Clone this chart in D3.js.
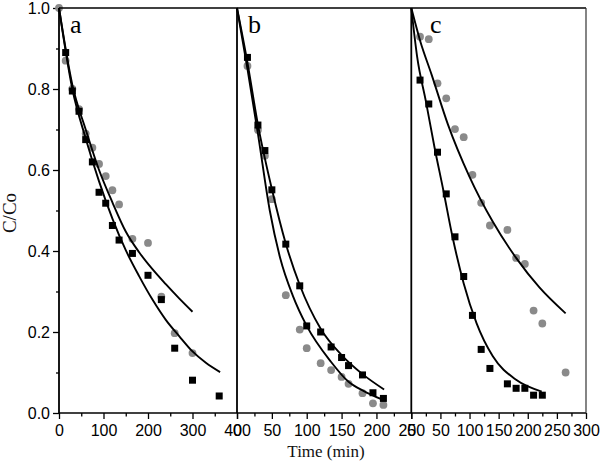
<!DOCTYPE html>
<html>
<head>
<meta charset="utf-8">
<script src="https://cdn.jsdelivr.net/npm/d3@7"></script>
<style>
  body { margin: 0; background: #fff; }
  svg { display: block; }
</style>
</head>
<body>
<svg id="chart" width="600" height="464"></svg>
<script>
// panel a
const aSqT = [15, 30, 45, 60, 75, 90, 105, 120, 135, 165, 200, 230, 260, 300, 360];
const aSqV = [0.89, 0.795, 0.745, 0.675, 0.62, 0.545, 0.518, 0.463, 0.427, 0.394, 0.34, 0.28, 0.16, 0.081, 0.042];
const aCiT = [0, 15, 30, 45, 60, 75, 90, 105, 120, 135, 165, 200, 230, 260, 300];
const aCiV = [1.0, 0.87, 0.80, 0.75, 0.69, 0.655, 0.615, 0.585, 0.55, 0.515, 0.43, 0.42, 0.287, 0.197, 0.148];
const aFitLoT = [0, 30, 60, 90, 120, 150, 180, 210, 240, 270, 300, 330, 362];
const aFitLoV = [1.0, 0.80, 0.678, 0.572, 0.48, 0.402, 0.338, 0.28, 0.23, 0.19, 0.152, 0.124, 0.101];
const aFitHiT = [0, 30, 60, 90, 120, 150, 180, 210, 240, 270, 300];
const aFitHiV = [1.0, 0.81, 0.70, 0.60, 0.52, 0.448, 0.397, 0.355, 0.318, 0.283, 0.25];

// panel b
const bT = [15, 30, 40, 50, 70, 90, 100, 120, 135, 150, 160, 180, 195, 210];
const bSqV = [0.878, 0.711, 0.648, 0.551, 0.417, 0.314, 0.215, 0.2, 0.163, 0.137, 0.117, 0.094, 0.05, 0.036];
const bCiV = [0.857, 0.699, 0.635, 0.528, 0.291, 0.206, 0.16, 0.123, 0.106, 0.089, 0.072, 0.049, 0.024, 0.02];
const bFitHiT = [0, 15, 30, 50, 70, 90, 120, 150, 180, 211];
const bFitHiV = [1.0, 0.865, 0.712, 0.553, 0.418, 0.316, 0.208, 0.143, 0.096, 0.058];
const bFitLoT = [0, 15, 30, 47, 62, 80, 100, 135, 160, 182, 207];
const bFitLoV = [1.0, 0.85, 0.69, 0.50, 0.382, 0.29, 0.215, 0.126, 0.077, 0.054, 0.034];

// panel c
const cSqT = [15, 30, 45, 60, 75, 90, 105, 120, 135, 165, 180, 195, 210, 225];
const cSqV = [0.822, 0.763, 0.644, 0.541, 0.435, 0.337, 0.241, 0.157, 0.11, 0.072, 0.061, 0.061, 0.044, 0.044];
const cCiT = [15, 30, 45, 60, 75, 90, 105, 120, 135, 165, 180, 195, 210, 225, 265];
const cCiV = [0.929, 0.923, 0.814, 0.777, 0.701, 0.681, 0.588, 0.519, 0.463, 0.452, 0.383, 0.368, 0.253, 0.221, 0.10];
const cFitLoT = [0, 10, 25, 40, 55, 70, 90, 112, 140, 180, 224];
const cFitLoV = [1.0, 0.88, 0.77, 0.655, 0.55, 0.44, 0.32, 0.222, 0.14, 0.082, 0.053];
const cFitHiT = [0, 15, 35, 63, 100, 140, 180, 220, 265];
const cFitHiV = [1.0, 0.92, 0.835, 0.712, 0.583, 0.472, 0.383, 0.31, 0.246];

// axis ticks
const yMajor = [0, 0.2, 0.4, 0.6, 0.8, 1.0];
const yMinor = [0.1, 0.3, 0.5, 0.7, 0.9];
const aMajor = [0, 100, 200, 300, 400];
const aMinor = [50, 150, 250, 350];
const bMajor = [0, 50, 100, 150, 200, 250];
const bMinor = [25, 75, 125, 175, 225];
const cMajor = [0, 50, 100, 150, 200, 250, 300];
const cMinor = [25, 75, 125, 175, 225, 275];

const zip = (t, v) => t.map((d, i) => [d, v[i]]);

const panels = [
  { label: "a", domain: [0, 400], range: [59, 237], major: aMajor, minor: aMinor,
    squares: zip(aSqT, aSqV), circles: zip(aCiT, aCiV),
    fits: [zip(aFitLoT, aFitLoV), zip(aFitHiT, aFitHiV)], lx: 70 },
  { label: "b", domain: [0, 250], range: [237, 411.3], major: bMajor, minor: bMinor,
    squares: zip(bT, bSqV), circles: zip(bT, bCiV),
    fits: [zip(bFitHiT, bFitHiV), zip(bFitLoT, bFitLoV)], lx: 248 },
  { label: "c", domain: [0, 300], range: [411.3, 586], major: cMajor, minor: cMinor,
    squares: zip(cSqT, cSqV), circles: zip(cCiT, cCiV),
    fits: [zip(cFitLoT, cFitLoV), zip(cFitHiT, cFitHiV)], lx: 430 }
];

const svg = d3.select("#chart");
const plotTop = 8, plotBottom = 413;
const y = d3.scaleLinear().domain([0, 1]).range([plotBottom, plotTop]);
const tickFont = "'Liberation Sans', Arial, sans-serif";
const serif = "'Liberation Serif', 'Times New Roman', serif";

// y axis
const yAxisG = svg.append("g").attr("transform", `translate(59,0)`);
yAxisG.call(d3.axisLeft(y).tickValues(yMajor).tickSize(6).tickPadding(3).tickFormat(d3.format(".1f")));
yAxisG.append("g").call(d3.axisLeft(y).tickValues(yMinor).tickSize(3).tickFormat(""));
yAxisG.selectAll(".domain").remove();
yAxisG.selectAll("line").attr("stroke", "#000").attr("stroke-width", 1.3);
yAxisG.selectAll("text").style("font-family", tickFont).style("font-size", "16px").attr("fill", "#000");

panels.forEach(p => {
  const x = d3.scaleLinear().domain(p.domain).range(p.range);

  const gx = svg.append("g").attr("transform", `translate(0,${plotBottom})`);
  gx.call(d3.axisBottom(x).tickValues(p.major).tickSize(6).tickPadding(6).tickFormat(d3.format("d")));
  gx.append("g").call(d3.axisBottom(x).tickValues(p.minor).tickSize(3.5).tickFormat(""));
  gx.selectAll(".domain").remove();
  gx.selectAll("line").attr("stroke", "#000").attr("stroke-width", 1.3);
  gx.selectAll("text").style("font-family", tickFont).style("font-size", "16px").attr("fill", "#000");

  const g = svg.append("g");

  g.selectAll("circle.pt")
    .data(p.circles)
    .join("circle")
    .attr("class", "pt")
    .attr("cx", d => x(d[0]))
    .attr("cy", d => y(d[1]))
    .attr("r", 3.9)
    .attr("fill", "#8a8a8a");

  g.selectAll("rect.pt")
    .data(p.squares)
    .join("rect")
    .attr("class", "pt")
    .attr("x", d => x(d[0]) - 3.5)
    .attr("y", d => y(d[1]) - 3.5)
    .attr("width", 7)
    .attr("height", 7)
    .attr("fill", "#000");

  const line = d3.line()
    .x(d => x(d[0]))
    .y(d => y(d[1]))
    .curve(d3.curveMonotoneX);

  p.fits.forEach(f => {
    g.append("path")
      .datum(f)
      .attr("d", line)
      .attr("fill", "none")
      .attr("stroke", "#000")
      .attr("stroke-width", 1.9);
  });

  svg.append("text")
    .attr("x", p.lx)
    .attr("y", 33)
    .style("font-family", serif)
    .style("font-size", "26px")
    .attr("fill", "#000")
    .text(p.label);
});

// frame
const frame = svg.append("g").attr("stroke", "#000").attr("fill", "none");
frame.append("line").attr("x1", 59).attr("x2", 586).attr("y1", plotBottom).attr("y2", plotBottom).attr("stroke-width", 1.6);
frame.append("line").attr("x1", 59).attr("x2", 586).attr("y1", plotTop).attr("y2", plotTop).attr("stroke-width", 1.6);
[59, 237, 411.3].forEach(xv => {
  frame.append("line").attr("x1", xv).attr("x2", xv).attr("y1", plotTop).attr("y2", plotBottom).attr("stroke-width", 1.8);
});
frame.append("line").attr("x1", 586).attr("x2", 586).attr("y1", plotTop).attr("y2", plotBottom).attr("stroke-width", 1.2).attr("stroke", "#333");

svg.append("text")
  .attr("x", 326)
  .attr("y", 457)
  .attr("text-anchor", "middle")
  .style("font-family", serif)
  .style("font-size", "17px")
  .attr("fill", "#111")
  .text("Time (min)");

svg.append("text")
  .attr("transform", "translate(16,213) rotate(-90)")
  .attr("text-anchor", "middle")
  .style("font-family", serif)
  .style("font-size", "19px")
  .attr("fill", "#111")
  .text("C/Co");
</script>
</body>
</html>
